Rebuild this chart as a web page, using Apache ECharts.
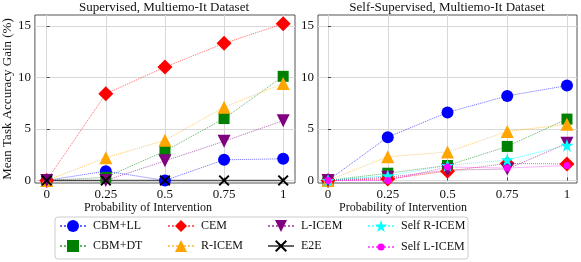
<!DOCTYPE html>
<html>
<head>
<meta charset="utf-8">
<script src="https://cdn.jsdelivr.net/npm/echarts@6/dist/echarts.min.js"></script>
<style>html,body{margin:0;padding:0;background:#fff}#c{width:581px;height:262px}</style>
</head>
<body>
<div id="c"></div>
<script>
const xValues = [0, 0.25, 0.5, 0.75, 1];
const xTicks = [0, 0.25, 0.5, 0.75, 1];
const xTickLabels = ['0', '0.25', '0.5', '0.75', '1'];
const yTicks = [0, 5, 10, 15];
const titles = ['Supervised, Multiemo-It Dataset', 'Self-Supervised, Multiemo-It Dataset'];
const xLabel = 'Probability of Intervention';
const yLabel = 'Mean Task Accuracy Gain (%)';

// Supervised panel
const supCBMLL = [0, 0.9, 0, 2.0, 2.1];
const supCBMDT = [0, 0.3, 2.85, 6.0, 10.1];
const supCEM = [0, 8.4, 11.0, 13.3, 15.2];
const supRICEM = [0, 2.2, 3.9, 7.1, 9.4];
const supLICEM = [0, 0, 1.9, 3.8, 5.8];
const supE2E = [0, 0, 0, 0, 0];

// Self-supervised panel
const selfCBMLL = [0, 4.2, 6.6, 8.2, 9.2];
const selfCBMDT = [0, 0.7, 1.45, 3.3, 5.95];
const selfCEM = [0, 0.15, 0.9, 1.65, 1.6];
const selfRICEM = [0, 2.3, 2.75, 4.75, 5.45];
const selfLICEM = [0, 0.3, 1.0, 1.1, 3.6];
const selfSelfRICEM = [0, 0.45, 1.45, 2.0, 3.4];
const selfSelfLICEM = [0, 0, 1.3, 1.2, 1.45];

const FONT = 'Liberation Serif';
const X_SHAPE = 'path://M0,1.2L1.2,0L5,3.8L8.8,0L10,1.2L6.2,5L10,8.8L8.8,10L5,6.2L1.2,10L0,8.8L3.8,5Z';
const STAR = 'path://M50,0L61.8,35.1L98.9,35.1L68.9,56.8L80.3,91.9L50,70.2L19.7,91.9L31.1,56.8L1.1,35.1L38.2,35.1Z';

const styles = {
  'CBM+LL': {color: '#0000ff', symbol: 'circle', size: 12},
  'CBM+DT': {color: '#008000', symbol: 'rect', size: 11},
  'CEM': {color: '#ff0000', symbol: 'diamond', size: 15},
  'R-ICEM': {color: '#ffa500', symbol: 'triangle', size: 13},
  'L-ICEM': {color: '#800080', symbol: 'triangle', size: 13, rotate: 180},
  'E2E': {color: '#000000', symbol: X_SHAPE, size: 11, solid: true},
  'Self R-ICEM': {color: '#00ffff', symbol: STAR, size: 13},
  'Self L-ICEM': {color: '#ff00ff', symbol: 'circle', size: 7, small: true}
};

function mk(name, vals, idx) {
  const s = styles[name];
  return {
    name: name, type: 'line', xAxisIndex: idx, yAxisIndex: idx,
    data: xValues.map((x, i) => [x, vals[i]]),
    symbol: s.symbol, symbolSize: s.size, symbolRotate: s.rotate || 0,
    showSymbol: true, animation: false,
    itemStyle: {color: s.color, opacity: 1},
    lineStyle: s.solid ? {color: '#000', width: 1.5, type: 'solid', opacity: 0.6}
                       : {color: s.color, width: 1, type: 'dotted', opacity: 0.6},
    emphasis: {disabled: true}
  };
}

const series = [
  mk('CBM+LL', supCBMLL, 0), mk('CBM+DT', supCBMDT, 0), mk('CEM', supCEM, 0),
  mk('R-ICEM', supRICEM, 0), mk('L-ICEM', supLICEM, 0), mk('E2E', supE2E, 0),
  mk('CBM+LL', selfCBMLL, 1), mk('CBM+DT', selfCBMDT, 1), mk('CEM', selfCEM, 1),
  mk('R-ICEM', selfRICEM, 1), mk('L-ICEM', selfLICEM, 1),
  mk('Self R-ICEM', selfSelfRICEM, 1), mk('Self L-ICEM', selfSelfLICEM, 1)
];

const grids = [
  {left: 33, top: 15, width: 262, height: 168},
  {left: 318, top: 15, width: 259, height: 168}
];
const xRanges = [[-0.05, 1.05], [-0.042, 1.042]];

function xAxisFor(i) {
  return {
    type: 'value', gridIndex: i, min: xRanges[i][0], max: xRanges[i][1],
    axisLine: {show: false},
    axisTick: {show: true, inside: true, length: 3, customValues: xTicks, lineStyle: {color: '#444'}},
    axisLabel: {customValues: xTicks, formatter: v => xTickLabels[xTicks.indexOf(v)] ?? '',
      fontFamily: FONT, fontSize: 13, color: '#111', margin: 5},
    splitLine: {show: true, lineStyle: {color: '#d9d9d9', width: 1}}
  };
}
function yAxisFor(i) {
  return {
    type: 'value', gridIndex: i, min: -0.25, max: 16.05,
    axisLine: {show: false},
    axisTick: {show: true, inside: true, length: 3, customValues: yTicks, lineStyle: {color: '#444'}},
    axisLabel: {customValues: yTicks, fontFamily: FONT, fontSize: 13, color: '#111', margin: 4},
    splitLine: {show: true, lineStyle: {color: '#d9d9d9', width: 1}},
    name: i === 0 ? yLabel : '', nameLocation: 'middle', nameGap: 15,
    nameTextStyle: {fontFamily: FONT, fontSize: 13, color: '#111'}
  };
}

const legendOrder = [
  ['CBM+LL', 59, 227], ['CBM+DT', 59, 247],
  ['CEM', 167, 227], ['R-ICEM', 167, 247],
  ['L-ICEM', 267, 227], ['E2E', 267, 247],
  ['Self R-ICEM', 367, 227], ['Self L-ICEM', 367, 247]
];
const legends = legendOrder.map(([n, l, c]) => {
  const small = styles[n].small;
  const ih = small ? 9 : 15;
  const top = small ? c - 6 : c - 7.5;
  return {
    left: l, top: Math.round(top), data: [n],
    itemWidth: 26, itemHeight: ih, padding: 0, selectedMode: false,
    textStyle: {fontFamily: FONT, fontSize: 12, color: '#111', padding: [0, 0, 0, 2]}
  };
});

const chart = echarts.init(document.getElementById('c'), null, {renderer: 'canvas'});
chart.setOption({
  animation: false,
  backgroundColor: '#fff',
  title: [
    {text: titles[0], left: 164, top: 1, padding: 0, textAlign: 'center',
      textStyle: {fontFamily: FONT, fontSize: 13, fontWeight: 'normal', color: '#111'}},
    {text: titles[1], left: 447, top: 1, padding: 0, textAlign: 'center',
      textStyle: {fontFamily: FONT, fontSize: 13, fontWeight: 'normal', color: '#111'}}
  ],
  grid: grids.map(g => Object.assign({show: true, borderColor: '#555', borderWidth: 1, backgroundColor: 'transparent'}, g)),
  xAxis: [xAxisFor(0), xAxisFor(1)],
  yAxis: [yAxisFor(0), yAxisFor(1)],
  legend: legends,
  graphic: [
    {type: 'rect', shape: {x: 55, y: 217, width: 413, height: 42, r: 3},
      style: {fill: '#fff', stroke: '#cccccc', lineWidth: 1}, z: 0, silent: true},
    {type: 'text', x: 148, y: 208, style: {text: xLabel, fontFamily: FONT, fontSize: 12, fill: '#111', textAlign: 'center', textVerticalAlign: 'middle'}},
    {type: 'text', x: 403, y: 208, style: {text: xLabel, fontFamily: FONT, fontSize: 12, fill: '#111', textAlign: 'center', textVerticalAlign: 'middle'}}
  ],
  series: series
});
</script>
</body>
</html>
